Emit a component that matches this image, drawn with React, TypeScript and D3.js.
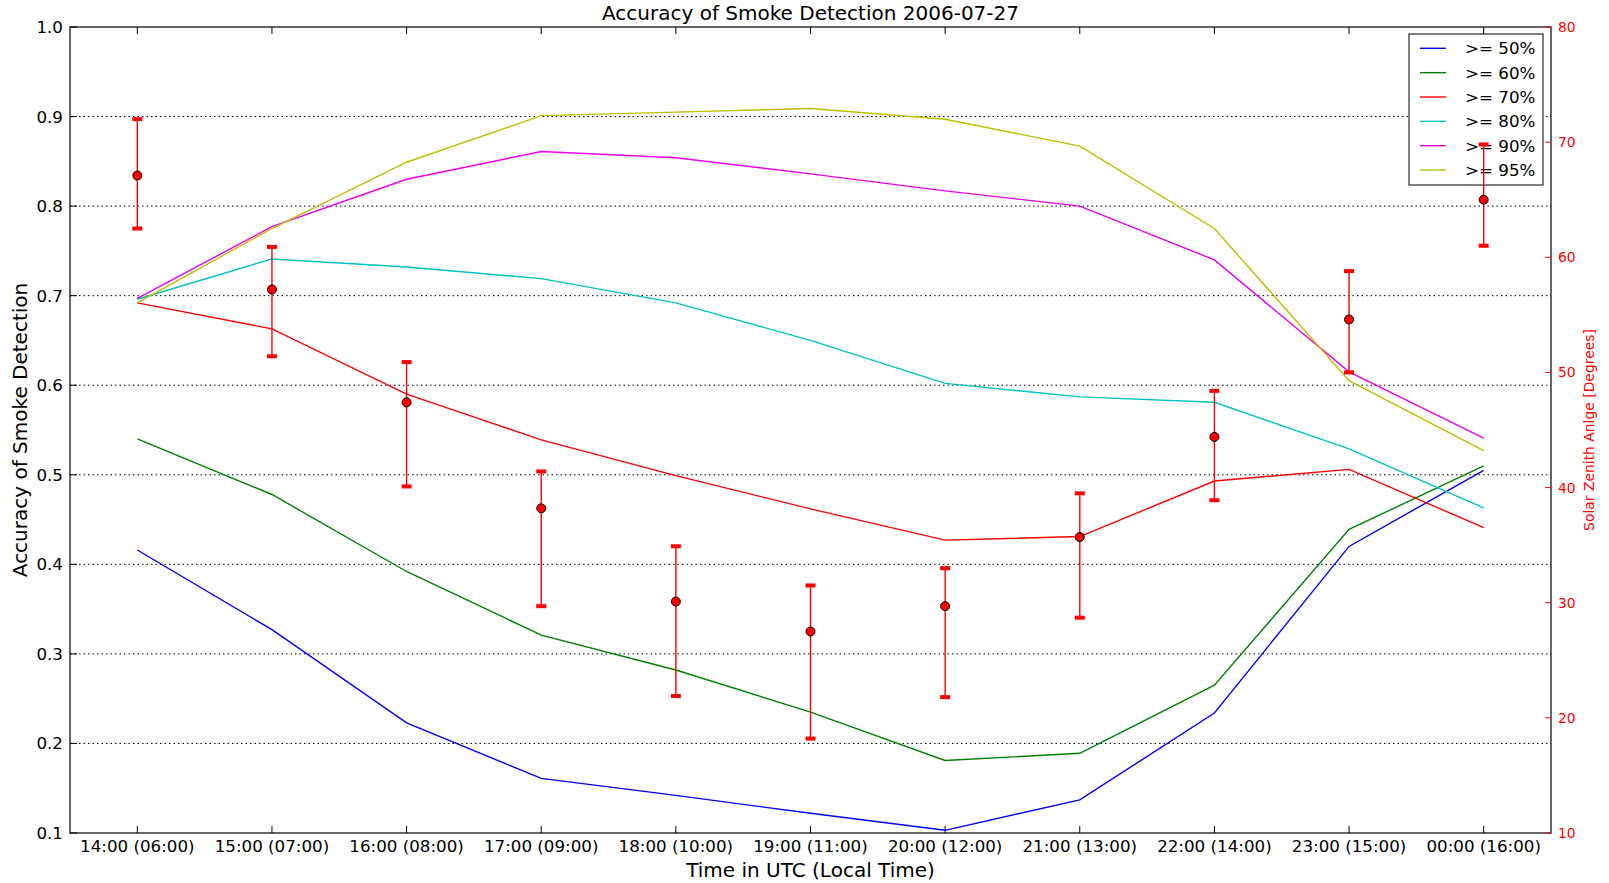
import React from "react";
import * as d3 from "d3";

// Hour labels: UTC with local time in parentheses
const timeLabels = [
  "14:00 (06:00)", "15:00 (07:00)", "16:00 (08:00)", "17:00 (09:00)",
  "18:00 (10:00)", "19:00 (11:00)", "20:00 (12:00)", "21:00 (13:00)",
  "22:00 (14:00)", "23:00 (15:00)", "00:00 (16:00)",
];

// Detection accuracy per confidence threshold
const acc50 = [0.416, 0.327, 0.223, 0.161, 0.142, 0.122, 0.103, 0.137, 0.234, 0.420, 0.505];
const acc60 = [0.540, 0.478, 0.392, 0.321, 0.282, 0.235, 0.181, 0.189, 0.265, 0.439, 0.510];
const acc70 = [0.692, 0.663, 0.590, 0.539, 0.499, 0.462, 0.427, 0.431, 0.493, 0.506, 0.441];
const acc80 = [0.696, 0.741, 0.732, 0.719, 0.692, 0.650, 0.602, 0.587, 0.581, 0.529, 0.463];
const acc90 = [0.697, 0.777, 0.830, 0.861, 0.854, 0.836, 0.817, 0.800, 0.740, 0.615, 0.541];
const acc95 = [0.692, 0.775, 0.849, 0.901, 0.905, 0.909, 0.897, 0.867, 0.775, 0.605, 0.527];

const seriesNames = [">= 50%", ">= 60%", ">= 70%", ">= 80%", ">= 90%", ">= 95%"];
const seriesColors = ["#0000ff", "#008000", "#ff0000", "#00c4c4", "#ee00ee", "#bfbf00"];

// Solar zenith angle (degrees): mean with lower / upper extent
const zenithMean = [67.1, 57.2, 47.4, 38.2, 30.1, 27.5, 29.7, 35.7, 44.4, 54.6, 65.0];
const zenithLow = [62.5, 51.4, 40.1, 29.7, 21.9, 18.2, 21.8, 28.7, 38.9, 50.0, 61.0];
const zenithHigh = [72.0, 60.9, 50.9, 41.4, 34.9, 31.5, 33.0, 39.5, 48.4, 58.8, 69.8];

const accTicks = [0.1, 0.2, 0.3, 0.4, 0.5, 0.6, 0.7, 0.8, 0.9, 1.0];
const zenithTicks = [10, 20, 30, 40, 50, 60, 70, 80];

const W = 1609;
const H = 883;
const M = { left: 70, right: 1551, top: 27, bottom: 833 };
const FONT = "'DejaVu Sans', Verdana, sans-serif";

export default function App() {
  const series = [acc50, acc60, acc70, acc80, acc90, acc95];
  const x = d3.scaleLinear().domain([-0.5, timeLabels.length - 0.5]).range([M.left, M.right]);
  const y = d3.scaleLinear().domain([0.1, 1.0]).range([M.bottom, M.top]);
  const y2 = d3.scaleLinear().domain([10, 80]).range([M.bottom, M.top]);
  const line = d3
    .line<number>()
    .x((_, i) => x(i))
    .y((d) => y(d));

  const legend = { x: 1409, y: 34, w: 134, h: 151, row: 24.35 };

  return (
    <div style={{ position: "absolute", left: 0, top: 0 }}>
      <svg width={W} height={H} style={{ display: "block", background: "#fff" }} fontFamily={FONT}>
        <rect x={0} y={0} width={W} height={H} fill="#fff" />

        {/* horizontal dotted grid */}
        {accTicks
          .filter((t) => t > 0.1 && t < 1.0)
          .map((t) => (
            <line
              key={"g" + t}
              x1={M.left}
              x2={M.right}
              y1={y(t)}
              y2={y(t)}
              stroke="#000"
              strokeWidth={1}
              strokeDasharray="1.5,3"
            />
          ))}

        {/* accuracy lines */}
        {series.map((s, i) => (
          <path key={"s" + i} d={line(s) || ""} fill="none" stroke={seriesColors[i]} strokeWidth={1.4} />
        ))}

        {/* legend */}
        <rect x={legend.x} y={legend.y} width={legend.w} height={legend.h} fill="#fff" stroke="#000" strokeWidth={1} />
        {seriesNames.map((n, i) => {
          const ly = legend.y + 14.3 + i * legend.row;
          return (
            <g key={"l" + i}>
              <line x1={1420} x2={1446} y1={ly} y2={ly} stroke={seriesColors[i]} strokeWidth={1.4} />
              <text x={1465} y={ly} dominantBaseline="central" fontSize={16.7} fill="#000">
                {n}
              </text>
            </g>
          );
        })}

        {/* zenith angle error bars */}
        {zenithMean.map((m, i) => (
          <g key={"e" + i}>
            <line x1={x(i)} x2={x(i)} y1={y2(zenithLow[i])} y2={y2(zenithHigh[i])} stroke="#ff0000" strokeWidth={1.4} />
            <rect x={x(i) - 5} y={y2(zenithLow[i]) - 2} width={10} height={4} fill="#ff0000" />
            <rect x={x(i) - 5} y={y2(zenithHigh[i]) - 2} width={10} height={4} fill="#ff0000" />
            <circle cx={x(i)} cy={y2(m)} r={4.5} fill="#ff0000" stroke="#000" strokeWidth={1} />
          </g>
        ))}

        {/* frame */}
        <rect
          x={M.left}
          y={M.top}
          width={M.right - M.left}
          height={M.bottom - M.top}
          fill="none"
          stroke="#000"
          strokeWidth={1.2}
        />

        {/* x ticks, inward on bottom and top */}
        {timeLabels.map((lab, i) => (
          <g key={"x" + i}>
            <line x1={x(i)} x2={x(i)} y1={M.bottom} y2={M.bottom - 7} stroke="#000" strokeWidth={1} />
            <line x1={x(i)} x2={x(i)} y1={M.top} y2={M.top + 7} stroke="#000" strokeWidth={1} />
            <text x={x(i)} y={846} textAnchor="middle" dominantBaseline="central" fontSize={16.7} fill="#000">
              {lab}
            </text>
          </g>
        ))}

        {/* left axis ticks */}
        {accTicks.map((t) => (
          <g key={"y" + t}>
            <line x1={M.left} x2={M.left + 7} y1={y(t)} y2={y(t)} stroke="#000" strokeWidth={1} />
            <text x={63} y={y(t)} textAnchor="end" dominantBaseline="central" fontSize={16.7} fill="#000">
              {t.toFixed(1)}
            </text>
          </g>
        ))}

        {/* right axis ticks */}
        {zenithTicks.map((t) => (
          <g key={"r" + t}>
            <line x1={M.right} x2={M.right - 6} y1={y2(t)} y2={y2(t)} stroke="#ff0000" strokeWidth={1} />
            <text x={1558} y={y2(t)} dominantBaseline="central" fontSize={13.9} fill="#ff0000">
              {t}
            </text>
          </g>
        ))}

        {/* titles */}
        <text x={(M.left + M.right) / 2} y={13} textAnchor="middle" dominantBaseline="central" fontSize={20} fill="#000">
          Accuracy of Smoke Detection 2006-07-27
        </text>
        <text x={(M.left + M.right) / 2} y={870} textAnchor="middle" dominantBaseline="central" fontSize={20} fill="#000">
          Time in UTC (Local Time)
        </text>
        <text
          transform={`translate(19.5, ${(M.top + M.bottom) / 2}) rotate(-90)`}
          textAnchor="middle"
          dominantBaseline="central"
          fontSize={20}
          fill="#000"
        >
          Accuracy of Smoke Detection
        </text>
        <text
          transform={`translate(1589, ${(M.top + M.bottom) / 2}) rotate(-90)`}
          textAnchor="middle"
          dominantBaseline="central"
          fontSize={13.9}
          fill="#ff0000"
        >
          Solar Zenith Anlge [Degrees]
        </text>
      </svg>
    </div>
  );
}
